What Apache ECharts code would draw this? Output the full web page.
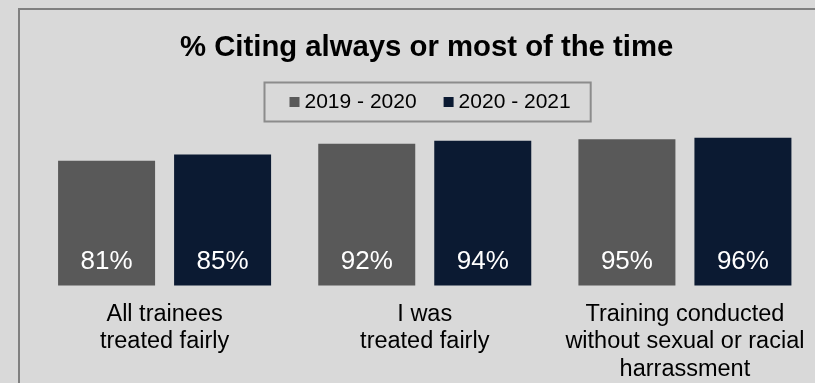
<!DOCTYPE html>
<html>
<head>
<meta charset="utf-8">
<script src="https://cdn.jsdelivr.net/npm/echarts@6/dist/echarts.min.js"></script>
<style>
html,body{margin:0;padding:0;background:#d9d9d9;}
#chart{width:815px;height:383px;}
</style>
</head>
<body>
<div id="chart"></div>
<script>
const titleText = '% Citing always or most of the time';
const categories = [
  'All trainees\ntreated fairly',
  'I was\ntreated fairly',
  'Training conducted\nwithout sexual or racial\nharrassment'
];
const seriesNames = ['2019 - 2020', '2020 - 2021'];
const values2019 = [81, 92, 95];
const values2020 = [85, 94, 96];
const colors = ['#595959', '#0b1a32'];

const FONT = '"Liberation Sans", Arial, sans-serif';
const chart = echarts.init(document.getElementById('chart'));

const valueLabel = {
  show: true,
  position: 'insideBottom',
  distance: 11,
  formatter: '{c}%',
  color: '#ffffff',
  fontSize: 26,
  fontFamily: FONT
};

chart.setOption({
  backgroundColor: '#d9d9d9',
  animation: false,
  title: {
    text: titleText,
    left: 180,
    top: 33,
    padding: 0,
    textStyle: { fontFamily: FONT, fontSize: 29.3, fontWeight: 'bold', color: '#000000' }
  },
  legend: {
    data: seriesNames,
    left: 264.5,
    top: 82.5,
    padding: [9, 20, 9, 25],
    itemWidth: 10,
    itemHeight: 10,
    itemGap: 27,
    icon: 'rect',
    borderColor: '#8c8c8c',
    borderWidth: 2,
    textStyle: { fontFamily: FONT, fontSize: 21, color: '#000000' }
  },
  graphic: [{
    type: 'rect',
    silent: true,
    shape: { x: 19, y: 9, width: 1000, height: 1000 },
    style: { fill: 'none', stroke: '#808080', lineWidth: 2 }
  }],
  grid: { left: 34.5, right: -5.5, top: 131.5, bottom: 94.5, containLabel: false },
  xAxis: {
    type: 'category',
    data: categories,
    axisLine: { show: false },
    axisTick: { show: false },
    axisLabel: {
      interval: 0,
      margin: 15,
      fontFamily: FONT,
      fontSize: 23.5,
      lineHeight: 27.5,
      color: '#000000'
    }
  },
  yAxis: {
    type: 'value',
    min: 0,
    max: 100,
    show: false,
    splitLine: { show: false }
  },
  series: [
    {
      name: seriesNames[0],
      type: 'bar',
      data: values2019,
      barWidth: 97,
      barGap: '19.6%',
      itemStyle: { color: colors[0] },
      label: valueLabel
    },
    {
      name: seriesNames[1],
      type: 'bar',
      data: values2020,
      barWidth: 97,
      barGap: '19.6%',
      itemStyle: { color: colors[1] },
      label: valueLabel
    }
  ]
});
</script>
</body>
</html>
